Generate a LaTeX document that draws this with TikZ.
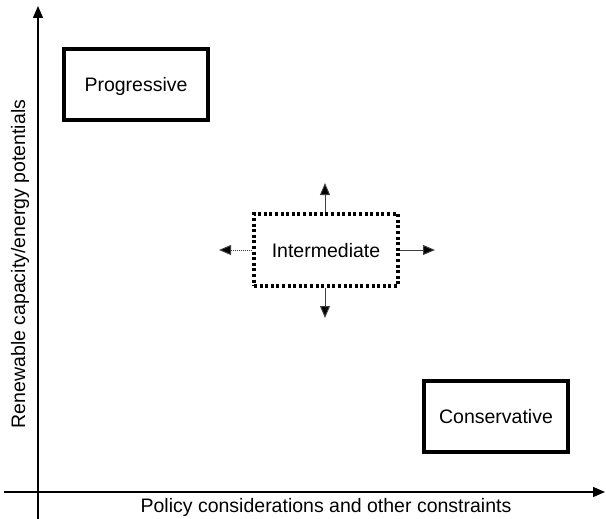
\documentclass[tikz,border=0pt]{standalone}
\usepackage{fontspec}
\setmainfont{Liberation Sans}
\usetikzlibrary{arrows.meta}
\begin{document}
\begin{tikzpicture}[x=1pt,y=-1pt,
  lbl/.style={font=\fontsize{19.5}{23}\selectfont,inner sep=0pt},
  boxstyle/.style={draw=black,line width=3.2pt,minimum width=144pt,minimum height=71pt,inner sep=0pt,text depth=0pt,font=\fontsize{19.5}{23}\selectfont},
  dotbox/.style={draw=black,line width=3.2pt,dash pattern=on 3pt off 2.6pt,minimum width=144pt,minimum height=72pt,inner sep=0pt,text depth=0pt,font=\fontsize{19.5}{23}\selectfont},
  axis/.style={line width=1.4pt,-{Triangle[length=12pt,width=10pt]}},
  dir/.style={line width=1pt,draw=black!75,-{Triangle[length=12pt,width=10pt,fill=black]}}
]
\useasboundingbox (0,0) rectangle (606,519);
% axes
\coordinate (ybot) at (38,519);
\coordinate (ytop) at (38,6);
\coordinate (xl) at (4,492);
\coordinate (xr) at (605,492);
\draw[axis] (ybot) -- (ytop);
\draw[axis] (xl) -- (xr);
\node[lbl] (xlab) at (326,507) {Policy considerations and other constraints};
\node[lbl,rotate=90] (ylab) at (20,264) {Renewable capacity/energy potentials};
% boxes
\node[boxstyle] (prog) at (136,84.5) {Progressive};
\node[boxstyle] (cons) at (496,416.5) {Conservative};
\node[dotbox] (inter) at (326,250) {Intermediate};
% direction arrows
\coordinate (up) at (325,183);
\coordinate (down) at (325,318);
\coordinate (left) at (219,250);
\coordinate (right) at (435,250);
\draw[dir] (inter.north -| up) -- (up);
\draw[dir] (inter.south -| down) -- (down);
\draw[dir] (inter.east) -- (right);
\draw[dir,dash pattern=on 1pt off 1pt] (inter.west) -- (left);
\end{tikzpicture}
\end{document}
